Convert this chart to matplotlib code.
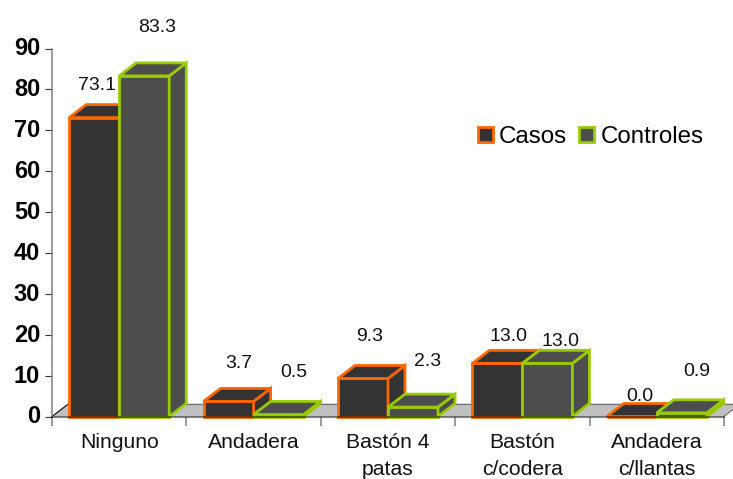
import matplotlib
matplotlib.use("Agg")
import matplotlib.pyplot as plt
from matplotlib.patches import Patch, Polygon
from matplotlib.transforms import ScaledTranslation

plt.rcParams["font.family"] = ["Liberation Sans", "DejaVu Sans"]

categories = ["Ninguno", "Andadera", "Bastón 4\npatas", "Bastón\nc/codera", "Andadera\nc/llantas"]
casos = [73.1, 3.7, 9.3, 13.0, 0.0]
controles = [83.3, 0.5, 2.3, 13.0, 0.9]
yticks = [0, 10, 20, 30, 40, 50, 60, 70, 80, 90]

# label offsets from the top of each bar, in pixels
casos_off = [(3, 32), (10, 38), (7, 42), (11, 27), (8, 20)]
controles_off = [(13, 48), (15, 42), (15, 46), (13, 22), (15, 41)]

W, H = 733, 479
left, right, top, bottom = 52, 724, 48.5, 416.5
bar_w = 0.372
depth_x = 17 / ((right - left) / 5)
depth_y = 13 / ((bottom - top) / 90)

fig = plt.figure(figsize=(W / 100, H / 100), dpi=100)
ax = fig.add_axes([left / W, 1 - bottom / H, (right - left) / W, (bottom - top) / H])
ax.set_xlim(0, 5)
ax.set_ylim(0, 90)

# floor
floor = Polygon([(0, 0), (5, 0), (5 + depth_x, depth_y), (depth_x, depth_y)],
                facecolor="#C0C0C0", edgecolor="none", clip_on=False, zorder=0.5)
ax.add_patch(floor)
ax.plot([0, depth_x], [0, depth_y], color="black", lw=0.8, clip_on=False, zorder=0.6)
ax.plot([depth_x, 5 + depth_x], [depth_y, depth_y], color="#707070", lw=0.8, clip_on=False, zorder=0.6)
ax.plot([5, 5 + depth_x], [0, depth_y], color="#707070", lw=0.8, clip_on=False, zorder=0.6)


def bar3d(x, h, face, edge, z):
    ax.bar(x, h, bar_w, align="edge", color=face, edgecolor=edge, linewidth=2.0,
           clip_on=False, zorder=z, joinstyle="miter")
    top_face = [(x, h), (x + bar_w, h), (x + bar_w + depth_x, h + depth_y), (x + depth_x, h + depth_y)]
    side_face = [(x + bar_w, 0), (x + bar_w + depth_x, depth_y), (x + bar_w + depth_x, h + depth_y), (x + bar_w, h)]
    for pts in (side_face, top_face):
        ax.add_patch(Polygon(pts, facecolor=face, edgecolor=edge, linewidth=2.0,
                             clip_on=False, zorder=z, joinstyle="miter"))


z = 1.0
for i in range(len(categories)):
    x0 = i + 0.5 - bar_w
    bar3d(x0, casos[i], "#333333", "#FF6600", z)
    bar3d(x0 + bar_w, controles[i], "#4D4D4D", "#99CC00", z + 0.1)
    z += 0.2
    ax.annotate(f"{casos[i]:.1f}", (x0 + bar_w / 2, casos[i]), xytext=casos_off[i],
                textcoords="offset pixels", ha="center", va="center", fontsize=14,
                color="#111111", zorder=5, annotation_clip=False)
    ax.annotate(f"{controles[i]:.1f}", (x0 + bar_w * 1.5, controles[i]), xytext=controles_off[i],
                textcoords="offset pixels", ha="center", va="center", fontsize=14,
                color="#111111", zorder=5, annotation_clip=False)

for s in ("top", "right"):
    ax.spines[s].set_visible(False)
ax.spines["left"].set_color("#808080")
ax.spines["left"].set_linewidth(1.1)
ax.spines["bottom"].set_color("#00000080")
ax.spines["bottom"].set_linewidth(1.4)
ax.spines["bottom"].set_zorder(4)

ax.set_yticks(yticks)
ax.set_yticklabels([str(v) for v in yticks], fontsize=17, fontweight="bold", va="center_baseline")
ax.tick_params(axis="y", length=5, width=0.8, color="#333333", pad=3.5)
# y labels sit a little above their ticks
shift = ScaledTranslation(0, 1.5 / 72, fig.dpi_scale_trans)
for lab in ax.get_yticklabels():
    lab.set_transform(lab.get_transform() + shift)

ax.set_xticks(range(6))
ax.set_xticklabels([])
ax.tick_params(axis="x", which="major", length=6.5, width=1.1, color="#808080")
ax.set_xticks([i + 0.5 for i in range(5)], minor=True)
ax.set_xticklabels(categories, minor=True, fontsize=15.2, linespacing=1.55, color="#111111")
ax.tick_params(axis="x", which="minor", length=0, pad=12)

handles = [Patch(facecolor="#333333", edgecolor="#FF6600", linewidth=2.0, label="Casos"),
           Patch(facecolor="#4D4D4D", edgecolor="#99CC00", linewidth=2.0, label="Controles")]
ax.legend(handles=handles, ncol=2, frameon=False, fontsize=17.4, handlelength=0.62, handleheight=0.62,
          handletextpad=0.25, columnspacing=0.5, borderpad=0, borderaxespad=0,
          loc="center left", bbox_to_anchor=((478 - left) / (right - left), (bottom - 137) / (bottom - top)))

fig.savefig("out.png", dpi=100)
